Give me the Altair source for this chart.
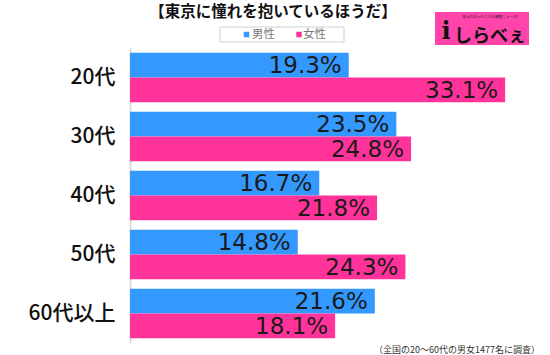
import altair as alt
import pandas as pd

categories = ["20代", "30代", "40代", "50代", "60代以上"]
genders = ["男性", "女性"]
male = [19.3, 23.5, 16.7, 14.8, 21.6]
female = [33.1, 24.8, 21.8, 24.3, 18.1]
colors = ["#3399ff", "#ff3399"]

title_text = "【東京に憧れを抱いているほうだ】"
note_text = "（全国の20～60代の男女1477名に調査）"

rows = []
for c, m, f in zip(categories, male, female):
    rows.append({"category": c, "gender": "男性", "value": m, "label": f"{m:.1f}%"})
    rows.append({"category": c, "gender": "女性", "value": f, "label": f"{f:.1f}%"})
df = pd.DataFrame(rows)

FONT = "Noto Sans CJK JP"

y_enc = alt.Y(
    "category:N",
    sort=categories,
    scale=alt.Scale(paddingInner=0.16, paddingOuter=0.08),
    axis=alt.Axis(
        title=None, ticks=False, labelFontSize=21, labelColor="#111", labelFontWeight=500,
        labelFont=FONT, labelPadding=15, domainColor="#dddddd", domainWidth=2,
    ),
)
yoff = alt.YOffset("gender:N", sort=genders)
x_enc = alt.X("value:Q", scale=alt.Scale(domain=[0, 36]), axis=None)

base = alt.Chart(df)
bars = base.mark_bar().encode(
    y=y_enc, yOffset=yoff, x=x_enc,
    color=alt.Color("gender:N", scale=alt.Scale(domain=genders, range=colors), legend=None),
)
labels = base.mark_text(align="right", baseline="middle", dx=-7, dy=1, fontSize=23,
                        font="DejaVu Sans", color="#1a1a1a").encode(
    y=y_enc, yOffset=yoff, x=x_enc, text="label:N"
)

one = pd.DataFrame({"a": [0]})
title = alt.Chart(one).mark_text(text=title_text, fontSize=15.5, fontWeight="bold", font=FONT,
                                 color="#111", align="center", baseline="middle").encode(
    x=alt.value(143), y=alt.value(-36))
legend_box = alt.Chart(one).mark_rect(fill="white", stroke="#d0d0d0", strokeWidth=1).encode(
    x=alt.value(90), x2=alt.value(214), y=alt.value(-21), y2=alt.value(-6))
sq1 = alt.Chart(one).mark_square(size=30, opacity=1, color=colors[0]).encode(
    x=alt.value(116.5), y=alt.value(-13.5))
sq2 = alt.Chart(one).mark_square(size=30, opacity=1, color=colors[1]).encode(
    x=alt.value(169), y=alt.value(-13.5))
lt1 = alt.Chart(one).mark_text(text=genders[0], fontSize=11.5, font=FONT, color="#777",
                               align="left", baseline="middle").encode(
    x=alt.value(122), y=alt.value(-13.5))
lt2 = alt.Chart(one).mark_text(text=genders[1], fontSize=11.5, font=FONT, color="#777",
                               align="left", baseline="middle").encode(
    x=alt.value(173), y=alt.value(-13.5))
note = alt.Chart(one).mark_text(text=note_text, fontSize=9, font=FONT, color="#333",
                                align="right", baseline="middle").encode(
    x=alt.value(410), y=alt.value(302))
logo_rect = alt.Chart(one).mark_rect(fill="#ff44aa").encode(
    x=alt.value(305), x2=alt.value(399), y=alt.value(-36), y2=alt.value(-3))
logo_i = alt.Chart(one).mark_text(text="i", fontSize=24, fontWeight="bold", font="DejaVu Serif",
                                  color="#111", align="center", baseline="middle").encode(
    x=alt.value(316), y=alt.value(-16))
logo_txt = alt.Chart(one).mark_text(text="しらべぇ", fontSize=18, fontWeight="bold", font=FONT,
                                    color="#111", align="center", baseline="middle").encode(
    x=alt.value(360), y=alt.value(-11))
logo_small = alt.Chart(one).mark_text(text="知らなかったことを調査ニュース!", fontSize=3.6, font=FONT,
                                      color="#222", align="center", baseline="middle").encode(
    x=alt.value(360), y=alt.value(-31))

chart = alt.layer(
    bars, labels, title, legend_box, sq1, sq2, lt1, lt2, note,
    logo_rect, logo_i, logo_txt, logo_small,
).properties(
    width=408, height=295,
    autosize=alt.AutoSizeParams(type="none"),
    padding={"left": 130, "top": 48, "right": 12, "bottom": 12},
).configure_view(stroke=None)

chart.save("out.html", embed_options={"renderer": "svg", "actions": False})
